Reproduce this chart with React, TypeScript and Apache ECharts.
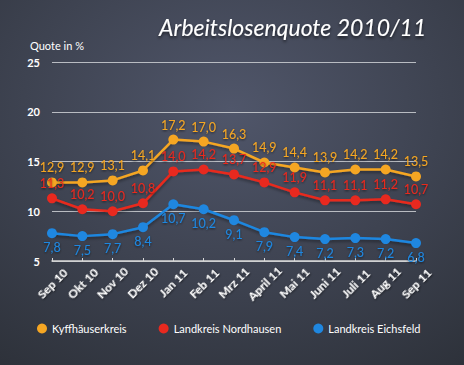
import React, { useEffect, useRef } from "react";
import * as echarts from "echarts";

const months = ["Sep 10", "Okt 10", "Nov 10", "Dez 10", "Jan 11", "Feb 11", "Mrz 11", "April 11", "Mai 11", "Juni 11", "Juli 11", "Aug 11", "Sep 11"];
const kyffhaeuser = [12.9, 12.9, 13.1, 14.1, 17.2, 17.0, 16.3, 14.9, 14.4, 13.9, 14.2, 14.2, 13.5];
const nordhausen = [11.3, 10.2, 10.0, 10.8, 14.0, 14.2, 13.7, 12.9, 11.9, 11.1, 11.1, 11.2, 10.7];
const eichsfeld = [7.8, 7.5, 7.7, 8.4, 10.7, 10.2, 9.1, 7.9, 7.4, 7.2, 7.3, 7.2, 6.8];

const FONT = "Lato, 'Open Sans', sans-serif";
const fmt = (p: any) => String(p.value.toFixed(1)).replace(".", ",");

export default function App() {
  const ref = useRef<HTMLDivElement>(null);
  useEffect(() => {
    const chart = echarts.init(ref.current!, null, { renderer: "svg" });
    const mk = (name: string, data: number[], color: string, pos: string) => ({
      name,
      type: "line",
      data,
      symbol: "circle",
      symbolSize: 10,
      lineStyle: { color, width: 2.5, shadowColor: "rgba(0,0,0,0.4)", shadowBlur: 3, shadowOffsetY: 2 },
      itemStyle: { color },
      label: {
        show: true,
        position: pos,
        distance: 3,
        formatter: fmt,
        color,
        fontSize: 12.5,
        fontFamily: FONT,
        textShadowColor: "rgba(0,0,0,0.6)",
        textShadowBlur: 2,
        textShadowOffsetY: 1,
      },
    });
    chart.setOption({
      animation: false,
      backgroundColor: {
        type: "radial",
        x: 0.5,
        y: 0.3,
        r: 0.9,
        colorStops: [
          { offset: 0, color: "#50566a" },
          { offset: 1, color: "#2c3038" },
        ],
      },
      title: [
        {
          text: "Arbeitslosenquote 2010/11",
          left: 154,
          top: 10,
          textStyle: { color: "#ffffff", fontSize: 23, fontStyle: "italic", fontWeight: "normal", fontFamily: FONT, textShadowColor: "rgba(0,0,0,0.6)", textShadowBlur: 3, textShadowOffsetY: 2 },
        },
        {
          text: "Quote in %",
          left: 25,
          top: 35,
          textStyle: { color: "#ffffff", fontSize: 11, fontWeight: "normal", fontFamily: FONT },
        },
      ],
      legend: {
        bottom: 26,
        left: 32,
        itemGap: 32,
        icon: "circle",
        itemWidth: 10,
        itemHeight: 10,
        textStyle: { color: "#ffffff", fontSize: 11, fontFamily: FONT },
        data: ["Kyffhäuserkreis", "Landkreis Nordhausen", "Landkreis Eichsfeld"],
      },
      grid: { left: 52, right: 48, top: 62, bottom: 104 },
      xAxis: {
        type: "category",
        data: months,
        boundaryGap: false,
        axisLine: { lineStyle: { color: "#d8d8d8", width: 1.5 } },
        axisTick: { show: true, length: 3, inside: true, lineStyle: { color: "#d8d8d8" } },
        axisLabel: {
          rotate: 45,
          align: "center",
          verticalAlign: "middle",
          color: "#ffffff",
          fontSize: 12,
          fontWeight: "bold",
          fontFamily: FONT,
          margin: 22,
          interval: 0,
          textShadowColor: "rgba(0,0,0,0.7)",
          textShadowBlur: 2,
          textShadowOffsetY: 1,
        },
      },
      yAxis: {
        type: "value",
        min: 5,
        max: 25,
        interval: 5,
        axisLine: { show: false },
        axisTick: { show: false },
        splitLine: { lineStyle: { color: "#b9bcc2", width: 1 } },
        axisLabel: { color: "#ffffff", fontSize: 11, fontWeight: "bold", fontFamily: FONT, margin: 12 },
      },
      series: [
        mk("Kyffhäuserkreis", kyffhaeuser, "#f5a623", "top"),
        mk("Landkreis Nordhausen", nordhausen, "#e8291f", "top"),
        mk("Landkreis Eichsfeld", eichsfeld, "#1f87e0", "bottom"),
      ],
    });
    return () => chart.dispose();
  }, []);
  return <div ref={ref} style={{ width: 464, height: 365, position: "absolute", left: 0, top: 0 }} />;
}
